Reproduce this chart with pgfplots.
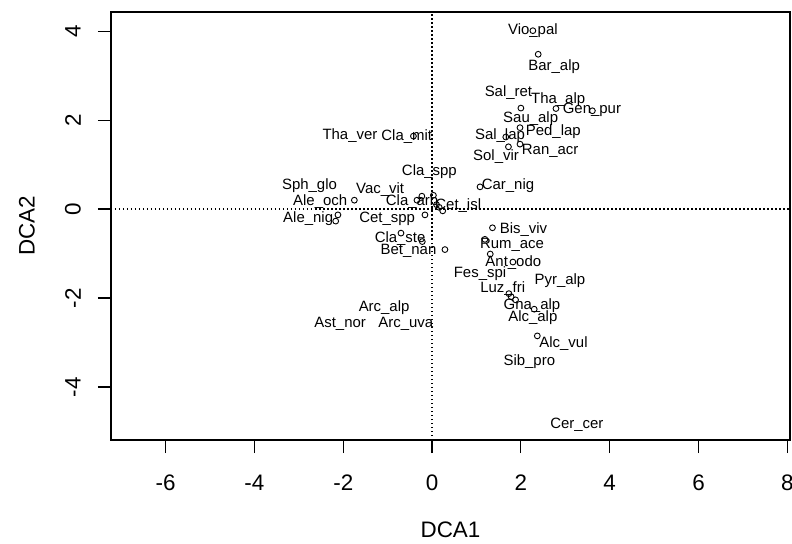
\documentclass[border=0pt]{standalone}
\usepackage{pgfplots}
\pgfplotsset{compat=1.18}
\usepackage{pgfplotstable}
\usepackage{fontspec}
\setmainfont{Liberation Sans}

% DCA site scores (open circles)
\pgfplotstableread{
x y
2.27 4.01
2.39 3.48
2.00 2.27
2.79 2.26
3.61 2.21
1.98 1.83
1.66 1.62
1.98 1.46
1.72 1.40
-0.42 1.64
-1.75 0.20
-0.23 0.29
0.03 0.31
-0.34 0.20
0.10 0.10
0.16 0.04
0.24 -0.04
-0.16 -0.13
-2.12 -0.13
-2.17 -0.27
-0.70 -0.54
-0.22 -0.73
0.29 -0.91
1.08 0.50
1.36 -0.42
1.19 -0.68
1.31 -1.01
1.82 -1.19
1.73 -1.90
1.78 -1.97
1.88 -2.04
2.30 -2.25
2.37 -2.85
}\sites

% DCA species scores (text labels)
\pgfplotstableread{
x y name
2.27 4.02 Vio\_pal
2.75 3.21 Bar\_alp
1.72 2.61 Sal\_ret
2.84 2.45 Tha\_alp
3.60 2.22 Gen\_pur
2.22 2.04 Sau\_alp
2.73 1.74 Ped\_lap
1.53 1.64 Sal\_lap
2.66 1.30 Ran\_acr
1.44 1.18 Sol\_vir
-1.85 1.66 Tha\_ver
-0.57 1.64 Cla\_mit
-0.06 0.84 Cla\_spp
-2.76 0.52 Sph\_glo
-1.17 0.44 Vac\_vit
-2.52 0.18 Ale\_och
-0.45 0.16 Cla\_arb
0.59 0.09 Cet\_isl
-2.79 -0.22 Ale\_nig
-1.01 -0.22 Cet\_spp
-0.72 -0.66 Cla\_ste
-0.53 -0.94 Bet\_nan
1.71 0.52 Car\_nig
2.06 -0.45 Bis\_viv
1.80 -0.81 Rum\_ace
1.83 -1.21 Ant\_odo
1.08 -1.46 Fes\_spi
2.88 -1.60 Pyr\_alp
1.59 -1.78 Luz\_fri
2.25 -2.17 Gna\_alp
2.27 -2.43 Alc\_alp
2.96 -3.02 Alc\_vul
2.19 -3.43 Sib\_pro
-1.08 -2.22 Arc\_alp
-2.07 -2.57 Ast\_nor
-0.59 -2.57 Arc\_uva
3.26 -4.85 Cer\_cer
}\species

\begin{document}
\begin{tikzpicture}
\useasboundingbox (-111bp,-104bp) rectangle (681bp,440bp);
\begin{axis}[
  at={(0,0)}, anchor=south west,
  scale only axis, width=679bp, height=428bp,
  xmin=-7.23, xmax=8.06, ymin=-5.19, ymax=4.43,
  axis line style={line width=1.3bp},
  xtick={-6,-4,...,8}, xticklabels={-6,-4,-2,0,2,4,6,8},
  ytick={-4,-2,...,4}, yticklabels={-4,-2,0,2,4},
  xtick pos=lower, ytick pos=left,
  tick align=outside, major tick length=13bp,
  tick style={black, line width=1.2bp},
  ticklabel style={font=\fontsize{22.5}{26}\selectfont},
  xticklabel style={anchor=center, yshift=-30bp},
  yticklabel style={xshift=-25bp, rotate=90, anchor=center},
  xlabel={DCA1}, ylabel={DCA2},
  label style={font=\fontsize{22.5}{26}\selectfont},
  xlabel style={at={(axis description cs:0.5,0)}, anchor=center, yshift=-90bp},
  ylabel style={at={(axis description cs:-0.1237,0.5)}, anchor=center},
]
\draw[line width=1.2bp, dash pattern=on 1.5bp off 2.5bp] (axis cs:0,-5.19) -- (axis cs:0,4.43);
\draw[line width=1.2bp, dash pattern=on 1.5bp off 2.5bp] (axis cs:-7.23,0) -- (axis cs:8.06,0);
\addplot[only marks, mark=o, mark size=2.9bp, mark options={line width=0.9bp, black}] table[x=x, y=y] {\sites};
\addplot[only marks, mark=none, nodes near coords, point meta=explicit symbolic,
  every node near coord/.style={anchor=center, inner sep=0pt, font=\fontsize{15}{18}\selectfont, text=black}]
  table[x=x, y=y, meta=name] {\species};
\end{axis}
\end{tikzpicture}
\end{document}
